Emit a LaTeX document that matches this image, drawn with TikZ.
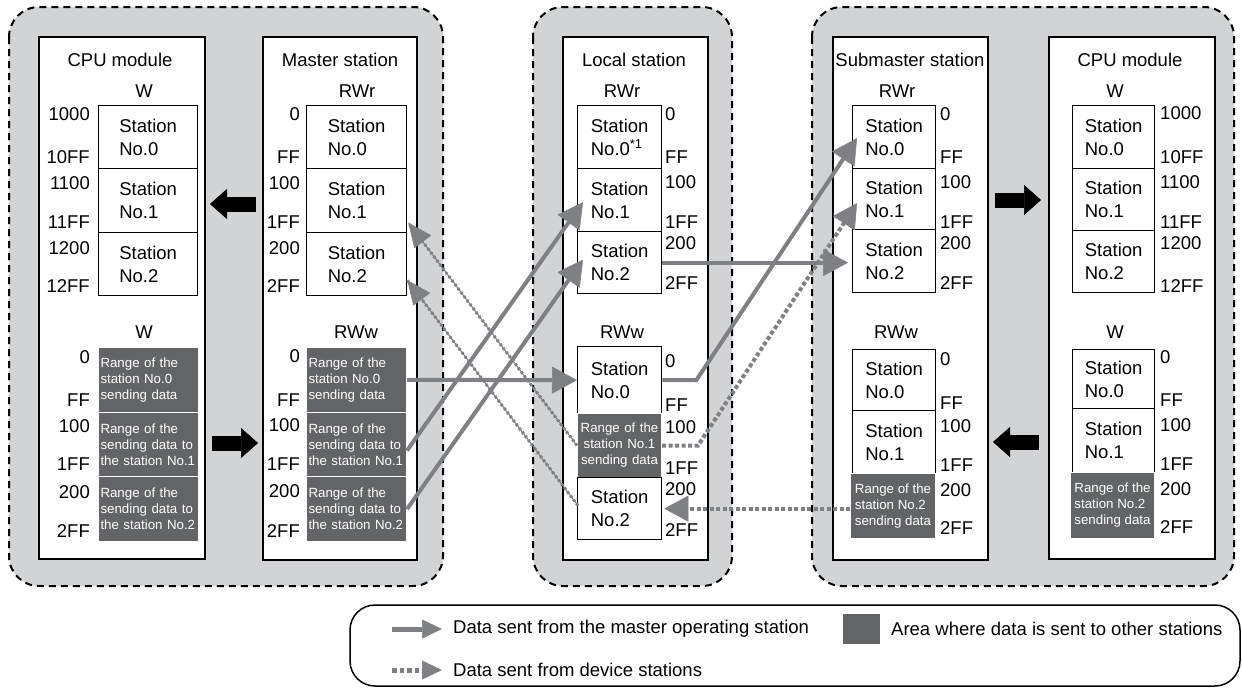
\documentclass[tikz,border=0pt]{standalone}
\usepackage{fontspec}
\setmainfont{Liberation Sans}
\usetikzlibrary{arrows.meta,calc}
\definecolor{grpfill}{HTML}{D1D3D4}
\definecolor{darkcell}{HTML}{636466}
\definecolor{arrgray}{HTML}{7E8083}
\newcommand\cellfont{\fontsize{18.5}{22.7}\selectfont}
\newcommand\smallfnt{\fontsize{13.3}{16}\selectfont}
\begin{document}
\begin{tikzpicture}[x=1pt,y=-1pt,
 group/.style={draw=black, line width=2pt, dash pattern=on 7pt off 5pt, fill=grpfill, rounded corners=30pt},
 bigbox/.style={draw=black, line width=1.5pt, fill=white, anchor=north west, inner sep=0pt},
 lbl/.style={font=\cellfont, inner sep=0pt},
 cell/.style={draw=black, line width=1.3pt, fill=white, anchor=north west, inner sep=0pt, align=left, font=\cellfont},
 dcell/.style={fill=darkcell, draw=white, line width=1pt, anchor=north west, inner ysep=0pt, inner xsep=2pt, text=white, font=\smallfnt},
 addrR/.style={font=\cellfont, anchor=east, inner sep=0pt},
 addrL/.style={font=\cellfont, anchor=west, inner sep=0pt},
 solidarrow/.style={draw=arrgray, line width=4pt, -{Triangle[length=25pt,width=27pt,line width=0.5pt]}},
 thickdot/.style={draw=arrgray, line width=4pt, dash pattern=on 4pt off 2.5pt, -{Triangle[length=24pt,width=26pt,line width=0.5pt]}},
 thindot/.style={draw=arrgray, line width=1pt, -{Triangle[length=24pt,width=21pt,line width=0.5pt]}, postaction={draw=arrgray, -, line width=3pt, dash pattern=on 2.5pt off 2.5pt}},
 blockarrow/.style={draw=black, line width=15pt, -{Triangle[length=17pt,width=30pt,line width=0.5pt]}},
 legsolid/.style={draw=arrgray, line width=5pt, -{Triangle[length=20pt,width=19pt,line width=0.5pt]}},
 legdot/.style={draw=arrgray, line width=5pt, dash pattern=on 4.5pt off 3pt, -{Triangle[length=20pt,width=19pt,line width=0.5pt]}},
 legtxt/.style={font=\cellfont, anchor=west, inner sep=0pt},
]
\useasboundingbox (0,0) rectangle (1242,688);

% groups
\draw[group] (9,7) rectangle (443,586);
\draw[group] (533,7) rectangle (732,586);
\draw[group] (812,7) rectangle (1234,586);

% big boxes
\node[bigbox, minimum width=166pt, minimum height=522pt] (cpuA) at (38,36) {};
\node[bigbox, minimum width=154pt, minimum height=523pt] (mst) at (262,36) {};
\node[bigbox, minimum width=145pt, minimum height=523pt] (loc) at (562,36) {};
\node[bigbox, minimum width=155pt, minimum height=523pt] (sub) at (832,36) {};
\node[bigbox, minimum width=166pt, minimum height=522pt] (cpuB) at (1048,36) {};

% titles
\node[lbl] (tA) at (120,60) {CPU module};
\node[lbl] (tB) at (340,60) {Master station};
\node[lbl] (tC) at (634,60) {Local station};
\node[lbl] (tD) at (910,60) {Submaster station};
\node[lbl] (tE) at (1130,60) {CPU module};

% headers
\node[lbl] (hA1) at (144,91) {W};
\node[lbl] (hB1) at (357,91) {RWr};
\node[lbl] (hC1) at (622,91) {RWr};
\node[lbl] (hD1) at (897,91) {RWr};
\node[lbl] (hE1) at (1115,91) {W};
\node[lbl] (hA2) at (144,332) {W};
\node[lbl] (hB2) at (356,332) {RWw};
\node[lbl] (hC2) at (622,332) {RWw};
\node[lbl] (hD2) at (896,332) {RWw};
\node[lbl] (hE2) at (1115,332) {W};

% CPU module (left)
\node[cell, minimum width=99pt, minimum height=63pt] (a0) at (98,105) {Station\\No.0};
\node[cell, minimum width=99pt, minimum height=64pt] (a1) at (98,168) {Station\\No.1};
\node[cell, minimum width=99pt, minimum height=63pt] (a2) at (98,232) {Station\\No.2};
\node[dcell, text width=96pt, minimum height=64.7pt, align=left] (aw0) at (98,347) {Range of the\\station No.0\\sending data};
\node[dcell, text width=96pt, minimum height=64.7pt, align=left] (aw1) at (98,411.7) {Range of the\\sending data to\\the station No.1};
\node[dcell, text width=96pt, minimum height=64.7pt, align=left] (aw2) at (98,476.3) {Range of the\\sending data to\\the station No.2};

% Master station
\node[cell, minimum width=100pt, minimum height=63pt] (m0r) at (306,105) {Station\\No.0};
\node[cell, minimum width=100pt, minimum height=64pt] (m1r) at (306,168) {Station\\No.1};
\node[cell, minimum width=100pt, minimum height=63pt] (m2r) at (306,232) {Station\\No.2};
\node[dcell, text width=96pt, minimum height=64.7pt, align=left] (m0w) at (306,347) {Range of the\\station No.0\\sending data};
\node[dcell, text width=96pt, minimum height=64.7pt, align=left] (m1w) at (306,411.7) {Range of the\\sending data to\\the station No.1};
\node[dcell, text width=96pt, minimum height=64.7pt, align=left] (m2w) at (306,476.3) {Range of the\\sending data to\\the station No.2};

% Local station
\node[cell, minimum width=84pt, minimum height=63pt] (l0r) at (577,105) {Station\\No.0\textsuperscript{*1}};
\node[cell, minimum width=84pt, minimum height=63pt] (l1r) at (577,168) {Station\\No.1};
\node[cell, minimum width=84pt, minimum height=62pt] (l2r) at (577,231) {Station\\No.2};
\node[cell, minimum width=84pt, minimum height=67pt] (l0w) at (577,346) {Station\\No.0};
\node[dcell, text width=80pt, minimum height=64pt, align=center] (l1w) at (577,413) {Range of the\\station No.1\\sending data};
\node[cell, minimum width=84pt, minimum height=62pt] (l2w) at (577,477) {Station\\No.2};

% Submaster station
\node[cell, minimum width=83pt, minimum height=63pt] (s0r) at (852,105) {Station\\No.0};
\node[cell, minimum width=83pt, minimum height=61pt] (s1r) at (852,168) {Station\\No.1};
\node[cell, minimum width=83pt, minimum height=63pt] (s2r) at (852,229) {Station\\No.2};
\node[cell, minimum width=83pt, minimum height=61pt] (s0w) at (852,349) {Station\\No.0};
\node[cell, minimum width=83pt, minimum height=63pt] (s1w) at (852,410) {Station\\No.1};
\node[dcell, minimum width=85pt, minimum height=65pt, align=left] (s2w) at (850,473) {Range of the\\station No.2\\sending data};

% CPU module (right)
\node[cell, minimum width=82pt, minimum height=63pt] (c0r) at (1072,105) {Station\\No.0};
\node[cell, minimum width=82pt, minimum height=62pt] (c1r) at (1072,168) {Station\\No.1};
\node[cell, minimum width=82pt, minimum height=62pt] (c2r) at (1072,230) {Station\\No.2};
\node[cell, minimum width=82pt, minimum height=59pt] (c0w) at (1072,349) {Station\\No.0};
\node[cell, minimum width=82pt, minimum height=64pt] (c1w) at (1072,408) {Station\\No.1};
\node[dcell, minimum width=84pt, minimum height=66pt, align=left] (c2w) at (1070,472) {Range of the\\station No.2\\sending data};

% address labels
\foreach \t/\yy [count=\i] in {1000/114,10FF/157,1100/183,11FF/222,1200/248,12FF/286,0/357,FF/400,100/426,1FF/464,200/492,2FF/531}
  \node[addrR] (pA\i) at (90,\yy) {\t};
\foreach \t/\yy [count=\i] in {0/114,FF/157,100/183,1FF/222,200/248,2FF/286,0/356,FF/400,100/425,1FF/464,200/491,2FF/531}
  \node[addrR] (pB\i) at (300,\yy) {\t};
\foreach \t/\yy [count=\i] in {0/114,FF/157,100/182,1FF/222,200/243,2FF/283,0/361,FF/405,100/427,1FF/468,200/489,2FF/530}
  \node[addrL] (pC\i) at (665,\yy) {\t};
\foreach \t/\yy [count=\i] in {0/114,FF/157,100/182,1FF/222,200/243,2FF/283,0/359,FF/403,100/426,1FF/465,200/490,2FF/528}
  \node[addrL] (pD\i) at (940,\yy) {\t};
\foreach \t/\yy [count=\i] in {1000/113,10FF/157,1100/182,11FF/222,1200/243,12FF/286,0/357,FF/400,100/425,1FF/464,200/489,2FF/527}
  \node[addrL] (pE\i) at (1160,\yy) {\t};

% black block arrows
\coordinate (k1s) at (256,204); \coordinate (k1e) at (210,204);
\coordinate (k2s) at (212,443); \coordinate (k2e) at (258,443);
\coordinate (k3s) at (995,200); \coordinate (k3e) at (1041,200);
\coordinate (k4s) at (1039,442); \coordinate (k4e) at (993,442);
\draw[blockarrow] (k1s) -- (k1e);
\draw[blockarrow] (k2s) -- (k2e);
\draw[blockarrow] (k3s) -- (k3e);
\draw[blockarrow] (k4s) -- (k4e);

% connectors
\draw[thindot] (l1w.west) -- ($(m1r.east)+(1,22)$);
\draw[thindot] ($(l2w.west)+(1,-3)$) -- ($(m2r.east)+(0,16)$);
\draw[solidarrow] (m0w.east) -- (l0w.west);
\draw[solidarrow] ($(m1w.east)+(0,6)$) -- ($(l1r.west)+(6,2)$);
\draw[solidarrow] (m2w.east) -- ($(l2r.west)+(6,-3)$);
\draw[solidarrow] (l2r.east) -- ($(l2r.east -| s2r.west)+(-4,0)$);
\draw[solidarrow] (l0w.east) -- ++(34,0) -- ($(s0r.west)+(5,1)$);
\draw[thickdot] (l1w.east) -- ++(36,0) -- ($(s1r.west)+(5,4)$);
\draw[thickdot] (s2w.west |- l2w.east) -- ($(l2w.east)+(2,0)$);

% legend
\draw[line width=1.5pt, rounded corners=25pt] (350,605) rectangle (1240,686);
\coordinate (g1a) at (392,629); \coordinate (g1b) at (442,629);
\coordinate (g2a) at (392,670); \coordinate (g2b) at (442,670);
\draw[legsolid] (g1a) -- (g1b);
\draw[legdot] (g2a) -- (g2b);
\node[legtxt] (g1t) at (453,629) {Data sent from the master operating station};
\node[legtxt] (g2t) at (453,670) {Data sent from device stations};
\node[fill=darkcell, minimum width=37pt, minimum height=30pt, inner sep=0pt] (g3) at (861.5,629) {};
\node[legtxt] (g3t) at (891,629) {Area where data is sent to other stations};
\end{tikzpicture}
\end{document}
